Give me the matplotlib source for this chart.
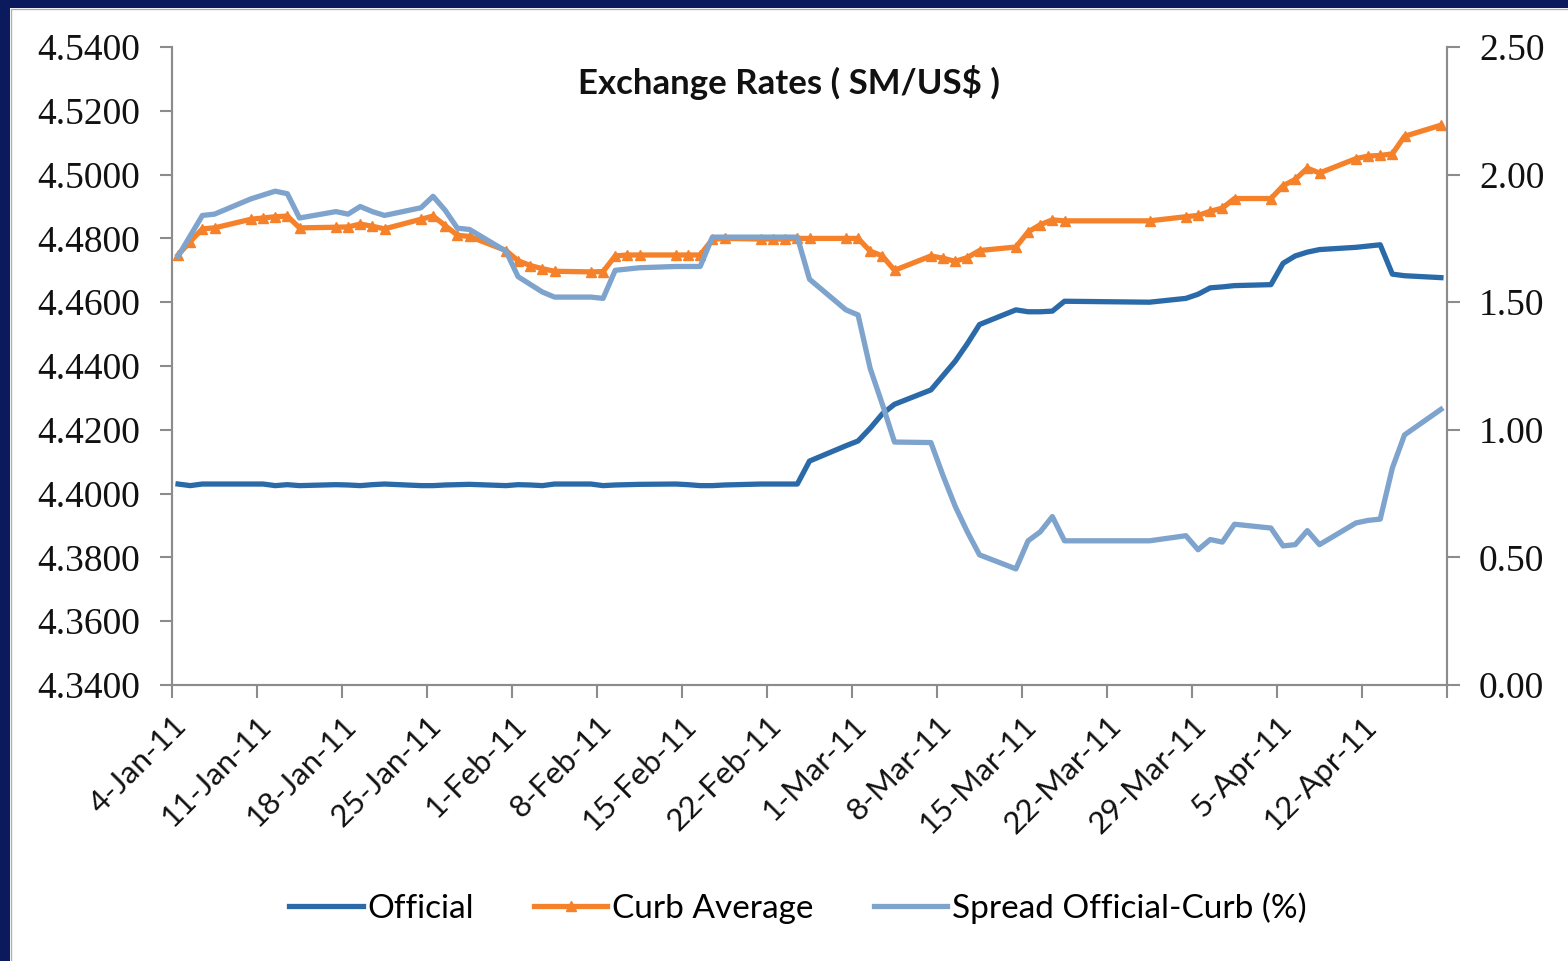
import matplotlib
matplotlib.use("Agg")
import matplotlib.pyplot as plt
import matplotlib.dates as mdates
import matplotlib.transforms as mtransforms
from matplotlib.patches import Rectangle
import datetime as dt

# ---- data (business days, 2011) ----
dates = ["2011-01-04", "2011-01-05", "2011-01-06", "2011-01-07", "2011-01-10", "2011-01-11",
         "2011-01-12", "2011-01-13", "2011-01-14", "2011-01-17", "2011-01-18", "2011-01-19",
         "2011-01-20", "2011-01-21", "2011-01-24", "2011-01-25", "2011-01-26", "2011-01-27",
         "2011-01-28", "2011-01-31", "2011-02-01", "2011-02-02", "2011-02-03", "2011-02-04",
         "2011-02-07", "2011-02-08", "2011-02-09", "2011-02-10", "2011-02-11", "2011-02-14",
         "2011-02-15", "2011-02-16", "2011-02-17", "2011-02-18", "2011-02-21", "2011-02-22",
         "2011-02-23", "2011-02-24", "2011-02-25", "2011-02-28", "2011-03-01", "2011-03-02",
         "2011-03-03", "2011-03-04", "2011-03-07", "2011-03-08", "2011-03-09", "2011-03-10",
         "2011-03-11", "2011-03-14", "2011-03-15", "2011-03-16", "2011-03-17", "2011-03-18",
         "2011-03-25", "2011-03-28", "2011-03-29", "2011-03-30", "2011-03-31", "2011-04-01",
         "2011-04-04", "2011-04-05", "2011-04-06", "2011-04-07", "2011-04-08", "2011-04-11",
         "2011-04-12", "2011-04-13", "2011-04-14", "2011-04-15", "2011-04-18"]

official = [4.4030, 4.4025, 4.4030, 4.4030, 4.4030, 4.4030, 4.4025, 4.4028, 4.4025, 4.4028,
            4.4027, 4.4025, 4.4028, 4.4030, 4.4025, 4.4025, 4.4027, 4.4028, 4.4029, 4.4025,
            4.4028, 4.4027, 4.4025, 4.4030, 4.4030, 4.4025, 4.4027, 4.4028, 4.4029, 4.4030,
            4.4028, 4.4025, 4.4025, 4.4027, 4.4030, 4.4030, 4.4030, 4.4030, 4.4102, 4.4150,
            4.4165, 4.4205, 4.4250, 4.4280, 4.4325, 4.4370, 4.4415, 4.4470, 4.4530, 4.4576,
            4.4570, 4.4570, 4.4572, 4.4603, 4.4600, 4.4612, 4.4625, 4.4645, 4.4648, 4.4652,
            4.4655, 4.4722, 4.4745, 4.4757, 4.4765, 4.4772, 4.4776, 4.4780, 4.4688, 4.4683,
            4.4677]

curb = [4.4748, 4.4790, 4.4830, 4.4833, 4.4860, 4.4864, 4.4868, 4.4870, 4.4833, 4.4835,
        4.4836, 4.4845, 4.4838, 4.4830, 4.4860, 4.4870, 4.4840, 4.4810, 4.4806, 4.4762,
        4.4730, 4.4715, 4.4705, 4.4697, 4.4695, 4.4696, 4.4745, 4.4748, 4.4748, 4.4748,
        4.4748, 4.4748, 4.4797, 4.4800, 4.4798, 4.4798, 4.4798, 4.4800, 4.4800, 4.4800,
        4.4800, 4.4760, 4.4745, 4.4700, 4.4745, 4.4738, 4.4728, 4.4740, 4.4762, 4.4773,
        4.4820, 4.4843, 4.4858, 4.4855, 4.4855, 4.4868, 4.4872, 4.4885, 4.4895, 4.4925,
        4.4925, 4.4965, 4.4985, 4.5020, 4.5005, 4.5050, 4.5058, 4.5060, 4.5065, 4.5120,
        4.5155]

spread = [1.68, 1.76, 1.84, 1.845, 1.905, 1.92, 1.935, 1.925, 1.83, 1.855,
          1.845, 1.875, 1.855, 1.84, 1.87, 1.915, 1.86, 1.79, 1.785, 1.70,
          1.60, 1.57, 1.54, 1.52, 1.52, 1.515, 1.625, 1.63, 1.635, 1.64,
          1.64, 1.64, 1.755, 1.755, 1.755, 1.755, 1.755, 1.755, 1.59, 1.47,
          1.45, 1.24, 1.10, 0.952, 0.950, 0.82, 0.70, 0.60, 0.51, 0.455,
          0.565, 0.60, 0.66, 0.565, 0.565, 0.585, 0.53, 0.57, 0.56, 0.63,
          0.615, 0.545, 0.55, 0.605, 0.55, 0.635, 0.645, 0.65, 0.85, 0.98,
          1.08]

tick_dates = ["2011-01-04", "2011-01-11", "2011-01-18", "2011-01-25", "2011-02-01",
              "2011-02-08", "2011-02-15", "2011-02-22", "2011-03-01", "2011-03-08",
              "2011-03-15", "2011-03-22", "2011-03-29", "2011-04-05", "2011-04-12",
              "2011-04-19"]
tick_labels = ["4-Jan-11", "11-Jan-11", "18-Jan-11", "25-Jan-11", "1-Feb-11", "8-Feb-11",
               "15-Feb-11", "22-Feb-11", "1-Mar-11", "8-Mar-11", "15-Mar-11", "22-Mar-11",
               "29-Mar-11", "5-Apr-11", "12-Apr-11", ""]

left_ticks = [4.34, 4.36, 4.38, 4.40, 4.42, 4.44, 4.46, 4.48, 4.50, 4.52, 4.54]
right_ticks = [0.0, 0.5, 1.0, 1.5, 2.0, 2.5]

# ---- colours ----
c_off = "#2b6aa8"
c_curb = "#f5822a"
c_spr = "#7ea3cc"
navy = "#0b1a5c"
spine_c = "#8c8c8c"

x = [mdates.date2num(dt.datetime.fromisoformat(d)) + 0.5 for d in dates]
xt = [mdates.date2num(dt.datetime.fromisoformat(d)) for d in tick_dates]

W, H = 1568, 961
fig = plt.figure(figsize=(W / 100, H / 100), dpi=100)
fig.patch.set_facecolor("white")

# navy frame (top and left) and thin gray inner border
fig.patches.append(Rectangle((0, 1 - 8 / H), 1, 8 / H, transform=fig.transFigure,
                             facecolor=navy, edgecolor="none", zorder=0))
fig.patches.append(Rectangle((0, 0), 10 / W, 1, transform=fig.transFigure,
                             facecolor=navy, edgecolor="none", zorder=0))
fig.patches.append(Rectangle((11 / W, -0.01), 1.0, 1 - 9 / H + 0.01, transform=fig.transFigure,
                             facecolor="none", edgecolor="#b0b0b0", lw=1.0, zorder=0))

ax = fig.add_axes([172 / W, 1 - 685 / H, (1447 - 172) / W, (685 - 47) / H])
ax2 = ax.twinx()

ax.plot(x, official, color=c_off, lw=3.8, solid_joinstyle="round", label="Official", zorder=3)
ax.plot(x, curb, color=c_curb, lw=3.8, marker="^", markersize=7.5, solid_joinstyle="round",
        label="Curb Average", zorder=4)
ax2.plot(x, spread, color=c_spr, lw=3.8, solid_joinstyle="round",
         label="Spread Official-Curb (%)", zorder=3)

x0 = mdates.date2num(dt.datetime(2011, 1, 4))
x1 = mdates.date2num(dt.datetime(2011, 4, 19))
ax.set_xlim(x0, x1)
ax.set_ylim(4.34, 4.54)
ax2.set_ylim(0, 2.5)

ax.set_yticks(left_ticks)
ax.set_yticklabels([f"{v:.4f}" for v in left_ticks], family="Liberation Serif", fontsize=27)
ax2.set_yticks(right_ticks)
ax2.set_yticklabels([f"{v:.2f}" for v in right_ticks], family="Liberation Serif", fontsize=27)

ax.set_xticks(xt)
ax.set_xticklabels(tick_labels, rotation=45, ha="right", va="top", rotation_mode="anchor",
                   family="Lato", fontsize=22.5)
shift = mtransforms.ScaledTranslation(10 / 100, 0, fig.dpi_scale_trans)
for lab in ax.get_xticklabels():
    lab.set_transform(lab.get_transform() + shift)

for a in (ax, ax2):
    a.spines["top"].set_visible(False)
    for s in ("left", "right", "bottom"):
        a.spines[s].set_color(spine_c)
        a.spines[s].set_linewidth(1.5)
    a.tick_params(axis="both", color=spine_c, width=1.5, length=9, labelcolor="#111111")
ax.tick_params(axis="y", pad=14)
ax2.tick_params(axis="y", pad=14)
ax.tick_params(axis="x", pad=10)
ax.patch.set_visible(False)

fig.text((565 + 1012) / 2 / W, 1 - 82 / H, "Exchange Rates ( SM/US$ )", ha="center", va="center",
         family="Lato", fontweight="bold", fontsize=25, color="#111111")

h1, l1 = ax.get_legend_handles_labels()
h2, l2 = ax2.get_legend_handles_labels()
fig.legend(h1 + h2, l1 + l2, loc="center", bbox_to_anchor=(798 / W, 1 - 908 / H), ncol=3,
           frameon=False, prop={"family": "Lato", "size": 24}, handlelength=2.2,
           handletextpad=0.15, columnspacing=1.8)

fig.savefig("out.png", dpi=100, facecolor="white")
